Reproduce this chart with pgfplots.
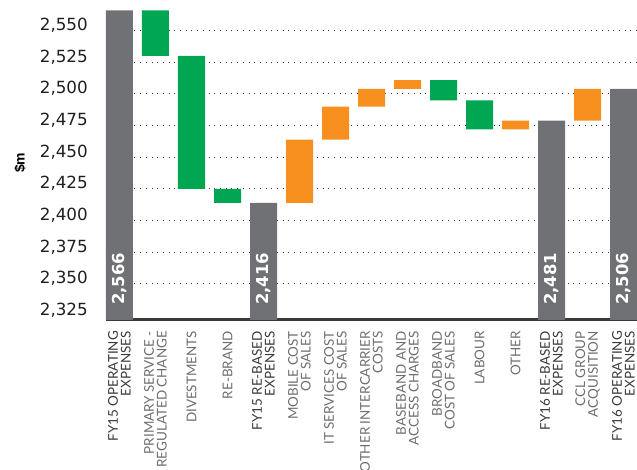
\documentclass[border=0pt]{standalone}
\usepackage{pgfplots}
\pgfplotsset{compat=1.18}
\usepackage{pgfplotstable}
\usepackage{fontspec}
\setmainfont{Liberation Sans}
\newfontfamily\labfont{Lato}
\newfontfamily\numfont{DejaVu Sans}

\definecolor{totgrey}{HTML}{707175}
\definecolor{upgreen}{HTML}{00A651}
\definecolor{uporange}{HTML}{F7901E}
\definecolor{axisgrey}{HTML}{3A3A3C}
\definecolor{darklab}{HTML}{3A3A3C}
\definecolor{lightlab}{HTML}{6D6E71}

% x  base  total  green  orange
\pgfplotstableread{
x  base  total green orange
0  0     2566  0     0
1  2530  0     36    0
2  2425  0     105   0
3  2414  0     11    0
4  0     2414  0     0
5  2414  0     0     50
6  2464  0     0     26
7  2490  0     0     14
8  2504  0     0     7
9  2495  0     16    0
10 2472  0     23    0
11 2472  0     0     7
12 0     2479  0     0
13 2479  0     0     25
14 0     2504  0     0
}\wfdata

\newcommand{\dk}[1]{\textcolor{darklab}{#1}}
\newcommand{\lt}[1]{\textcolor{lightlab}{#1}}
\tikzset{vallab/.style={rotate=90, anchor=west, inner sep=0pt, text=white, font=\numfont\bfseries\fontsize{16.5}{18}\selectfont}}

\begin{document}
\begin{tikzpicture}
\useasboundingbox (-106bp,-150.5bp) rectangle (531bp,319.5bp);
\begin{axis}[
    scale only axis,
    width=531bp, height=319.5bp,
    ybar stacked,
    bar width=27bp,
    xmin=-0.375, xmax=14.375,
    ymin=2322, ymax=2574.2,
    axis x line=bottom,
    axis y line=left,
    y axis line style={draw=none},
    x axis line style={-, line width=2.8bp, draw=axisgrey},
    major tick length=0pt,
    ytick={2350,2375,...,2550},
    extra y ticks={2325},
    extra y tick style={grid=none},
    ymajorgrids=true,
    grid style={line width=1bp, draw=axisgrey, dash pattern=on 1bp off 4.7bp},
    yticklabel={\pgfmathprintnumber[1000 sep={,}, assume math mode=true]{\tick}},
    yticklabel style={font=\numfont\fontsize{16.8}{19}\selectfont, color=black!88, anchor=east, inner sep=0pt, xshift=-18bp, yshift=5.5bp},
    xtick={0,...,14},
    xticklabels={
      {\dk{FY15 OPERATING}\\\dk{EXPENSES}},
      {\lt{PRIMARY SERVICE -}\\\lt{REGULATED CHANGE}},
      {\lt{DIVESTMENTS}},
      {\lt{RE-BRAND}},
      {\dk{FY15 RE-BASED}\\\dk{EXPENSES}},
      {\lt{MOBILE COST}\\\lt{OF SALES}},
      {\lt{IT SERVICES COST}\\\lt{OF SALES}},
      {\lt{OTHER INTERCARRIER}\\\lt{COSTS}},
      {\lt{BASEBAND AND}\\\lt{ACCESS CHARGES}},
      {\lt{BROADBAND}\\\lt{COST OF SALES}},
      {\lt{LABOUR}},
      {\lt{OTHER}},
      {\dk{FY16 RE-BASED}\\\dk{EXPENSES}},
      {\lt{CCL GROUP}\\\lt{ACQUISITION}},
      {\dk{FY16 OPERATING}\\\dk{EXPENSES}}
    },
    xticklabel style={font=\labfont\fontsize{13.5}{12.8}\selectfont, rotate=90, anchor=east, align=right, inner sep=0pt, xshift=-11.5bp},
    ylabel={\$m},
    ylabel style={font=\bfseries\fontsize{14}{16}\selectfont, at={(axis description cs:-0.162,0.49)}, anchor=center},
    clip=true,
]
\addplot[fill=none, draw=none] table[x=x, y=base] {\wfdata};
\addplot[fill=totgrey, draw=none] table[x=x, y=total] {\wfdata};
\addplot[fill=upgreen, draw=none] table[x=x, y=green] {\wfdata};
\addplot[fill=uporange, draw=none] table[x=x, y=orange] {\wfdata};

\coordinate (l0) at (axis cs:0,2333.5);
\coordinate (l4) at (axis cs:4,2333.5);
\coordinate (l12) at (axis cs:12,2333.5);
\coordinate (l14) at (axis cs:14,2333.5);
\end{axis}
\node[vallab] at (l0) {2,566};
\node[vallab] at (l4) {2,416};
\node[vallab] at (l12) {2,481};
\node[vallab] at (l14) {2,506};
\end{tikzpicture}
\end{document}
